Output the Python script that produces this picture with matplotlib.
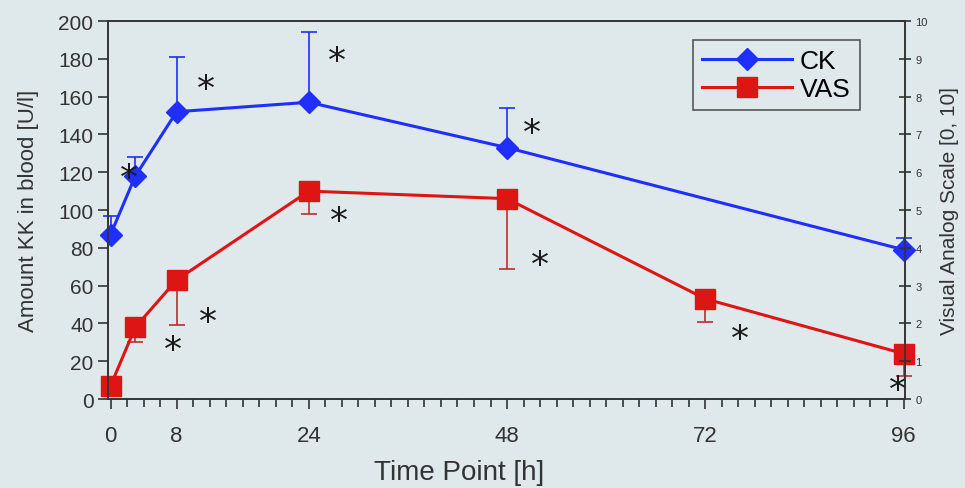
import numpy as np
import matplotlib
matplotlib.use('Agg')
from matplotlib import pyplot as plt
from matplotlib.ticker import MultipleLocator

# time points [h]
ck_time = [0, 3, 8, 24, 48, 96]
ck_vals = [87, 118, 152, 157, 133, 79]
ck_err = [10, 10, 29, 37, 21, 6]

vas_time = [0, 3, 8, 24, 48, 72, 96]
vas_vals = [0.35, 1.9, 3.15, 5.5, 5.3, 2.65, 1.2]
vas_err = [0.0, 0.4, 1.2, 0.6, 1.85, 0.6, 0.6]

x_ticks = [0, 8, 24, 48, 72, 96]

# significance marks (time, left-axis value)
star_ck = [(2.2, 117), (11.5, 164), (27.4, 179), (51, 141)]
star_vas = [(7.5, 26), (11.8, 41), (27.6, 94), (52, 71), (76.2, 32), (95.3, 5)]

bg = '#dfe8ea'
blue = '#1f2fff'
red = '#dd1515'
ink = '#333333'

plt.rcParams['font.family'] = ['Liberation Sans', 'DejaVu Sans']

fig = plt.figure(figsize=(9.65, 4.89), dpi=100, facecolor=bg)
ax = fig.add_axes([0.112, 0.182, 0.826, 0.773])
ax.set_facecolor(bg)
ax2 = ax.twinx()

# CK, errors upward only
ck = ax.errorbar(ck_time, ck_vals, yerr=[np.zeros(len(ck_err)), ck_err], color=blue,
                 ecolor=blue, elinewidth=1.2, capsize=6, capthick=1.2,
                 lw=2.2, marker='D', ms=11, zorder=3)

# VAS, errors downward only
vas_left = np.array(vas_vals) * 20
vas_err_left = np.array(vas_err) * 20
vas = ax.errorbar(vas_time, vas_left, yerr=[vas_err_left, np.zeros(len(vas_err))], color=red,
                  ecolor='#b83030', elinewidth=1.2, capsize=6, capthick=1.2,
                  lw=2.2, marker='s', ms=15, zorder=3)

for cont in (ck, vas):
    cont[0].set_clip_on(False)
    for c in cont[1]:
        c.set_clip_on(False)
    for c in cont[2]:
        c.set_clip_on(False)

for x, y in star_ck + star_vas:
    ax.text(x, y, '*', fontsize=26, ha='center', va='center', color='#1a1a1a',
            family='DejaVu Sans', zorder=4)

ax.set_xlim(-0.3, 96.2)
ax.set_ylim(0, 200)
ax2.set_ylim(0, 10)

ax.set_xticks(x_ticks)
ax.xaxis.set_minor_locator(MultipleLocator(2))
ax.yaxis.set_major_locator(MultipleLocator(20))
ax2.yaxis.set_major_locator(MultipleLocator(1))

ax.tick_params(axis='y', which='major', labelsize=15, colors=ink, length=7, width=1.2)
ax.tick_params(axis='x', which='major', labelsize=16, colors=ink, length=7, width=1.2, pad=12)
ax.tick_params(axis='x', which='minor', length=6, width=1.2, color=ink)
ax2.tick_params(axis='y', labelsize=8, colors=ink, direction='inout', length=8, width=1.2)

for a in (ax, ax2):
    for s in a.spines.values():
        s.set_color(ink)
        s.set_linewidth(1.2)

ax.set_ylabel('Amount KK in blood [U/l]', fontsize=16, color=ink, labelpad=14)
ax.set_xlabel('Time Point [h]', fontsize=20, color=ink)
ax.xaxis.set_label_coords(0.44, -0.16)
ax2.set_ylabel('Visual Analog Scale [0, 10]', fontsize=15, color=ink, labelpad=9)

leg = ax.legend([ck[0], vas[0]], ['CK', 'VAS'], loc='upper right',
                bbox_to_anchor=(0.96, 0.985), fontsize=19,
                frameon=True, fancybox=False, edgecolor=ink, facecolor=bg,
                handlelength=3.4, borderpad=0.35, labelspacing=0.15, handletextpad=0.3,
                borderaxespad=0.5)
leg.get_frame().set_linewidth(1.2)

fig.savefig('out.png', dpi=100, facecolor=bg)
plt.close(fig)
